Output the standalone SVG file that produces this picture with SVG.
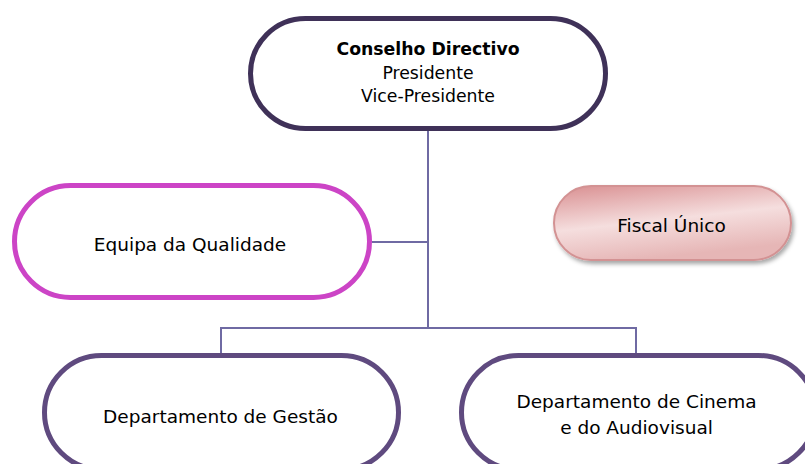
<svg xmlns="http://www.w3.org/2000/svg" width="805" height="464" viewBox="0 0 805 464">
  <defs>
    <linearGradient id="fiscalGrad" x1="0" y1="0" x2="0.35" y2="1">
      <stop offset="0" stop-color="#d98f91"/>
      <stop offset="0.55" stop-color="#f5dede"/>
      <stop offset="1" stop-color="#e6b6b6"/>
    </linearGradient>
    <filter id="shadow" x="-10%" y="-20%" width="125%" height="150%">
      <feDropShadow dx="2" dy="3" stdDeviation="2" flood-color="#000000" flood-opacity="0.35"/>
    </filter>
  </defs>
  <style>
    .conn { fill: none; stroke: #6f6aa3; stroke-width: 2; }
    .node { fill: #ffffff; stroke-width: 5; }
    .txt { font-family: "DejaVu Sans", "Liberation Sans", sans-serif; font-size: 18.5px; fill: #000000; text-anchor: middle; }
    .top { font-size: 17.3px; }
    .bold { font-weight: bold; }
  </style>
  <rect width="805" height="464" fill="#ffffff"/>
  <g id="connectors">
    <path class="conn" d="M428 128 V328"/>
    <path class="conn" d="M372 242 H428"/>
    <path class="conn" d="M221 328 H636"/>
    <path class="conn" d="M221 327 V353"/>
    <path class="conn" d="M636 327 V353"/>
  </g>
  <g id="conselho">
    <rect class="node" x="250.5" y="18.5" width="355" height="110" rx="55" ry="55" stroke="#3f3158"/>
    <text class="txt top bold" x="428" y="55">Conselho Directivo</text>
    <text class="txt top" x="428" y="79">Presidente</text>
    <text class="txt top" x="428" y="102">Vice-Presidente</text>
  </g>
  <g id="equipa">
    <rect class="node" x="14.5" y="185.5" width="355" height="112" rx="56" ry="56" stroke="#cc44c6"/>
    <text class="txt" x="190" y="251">Equipa da Qualidade</text>
  </g>
  <g id="fiscal">
    <rect x="554" y="186" width="237" height="74" rx="37" ry="37" fill="url(#fiscalGrad)" stroke="#d39293" stroke-width="2" filter="url(#shadow)"/>
    <text class="txt" x="671.5" y="232">Fiscal Único</text>
  </g>
  <g id="gestao">
    <rect class="node" x="44.5" y="355.5" width="354" height="114" rx="57" ry="57" stroke="#5f4a7f"/>
    <text class="txt" x="220.5" y="423">Departamento de Gestão</text>
  </g>
  <g id="cinema">
    <rect class="node" x="461.5" y="355.5" width="354" height="114" rx="57" ry="57" stroke="#5f4a7f"/>
    <text class="txt" x="636.5" y="408">Departamento de Cinema</text>
    <text class="txt" x="636.5" y="434">e do Audiovisual</text>
  </g>
</svg>
